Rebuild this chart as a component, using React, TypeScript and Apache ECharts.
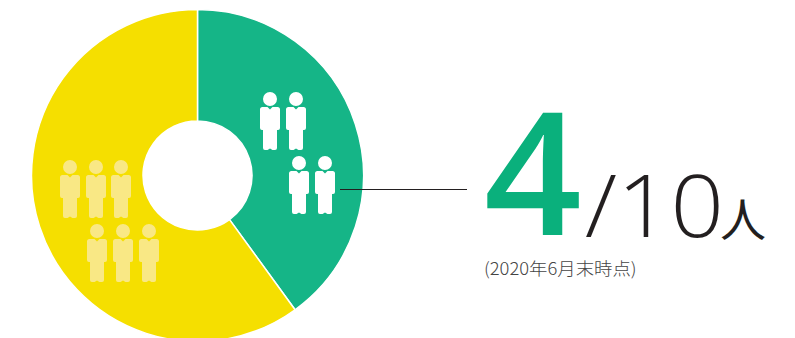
import React, { useEffect, useRef } from "react";
import * as echarts from "echarts";

const groupNames = ["女性", "男性"];
const groupValues = [4, 6];
const groupColors = ["#15B587", "#F5DF00"];
const countLabel = "4";
const totalLabel = "/10";
const unitLabel = "人";
const noteLabel = "(2020年6月末時点)";

// Head and suit silhouette, with the origin at the centre of the head.
const PERSON_PATH =
  "M-7 0A7 7 0 1 1 7 0A7 7 0 1 1 -7 0Z" +
  "M-7.5 8L-2.5 8L0 10.5L2.5 8L7.5 8Q10 8 10 10.5L10 29Q10 31 8 31L7 31L7 49Q7 51 5 51L2.5 51L0 49.5L-2.5 51L-5 51Q-7 51 -7 49L-7 31L-8 31Q-10 31 -10 29L-10 10.5Q-10 8 -7.5 8Z";
echarts.graphic.registerShape("person", echarts.graphic.extendPath(PERSON_PATH, {}));

const person = (x: number, y: number, fill: string) => ({
  type: "person",
  x,
  y,
  z: 10,
  silent: true,
  style: { fill },
});

const label = (
  x: number,
  y: number,
  text: string,
  fontSize: number,
  fill: string,
  fontWeight = 400,
  fontFamily = '"Open Sans", sans-serif',
  scaleX = 1,
) => ({
  type: "text",
  x,
  y,
  z: 10,
  scaleX,
  silent: true,
  style: { text, fontSize, fill, fontWeight, fontFamily, align: "left", verticalAlign: "middle" },
});

export default function App() {
  const ref = useRef<HTMLDivElement>(null);

  useEffect(() => {
    document.body.style.margin = "0";
    const chart = echarts.init(ref.current!, undefined, { renderer: "svg" });
    chart.setOption({
      animation: false,
      backgroundColor: "#ffffff",
      series: [
        {
          type: "pie",
          center: [197.5, 175.5],
          radius: [54.5, 166],
          startAngle: 90,
          clockwise: true,
          silent: true,
          label: { show: false },
          labelLine: { show: false },
          itemStyle: { borderColor: "#ffffff", borderWidth: 1.5 },
          data: groupValues.map((value, i) => ({
            name: groupNames[i],
            value,
            itemStyle: { color: groupColors[i] },
          })),
        },
      ],
      graphic: [
        person(270, 99, "#ffffff"),
        person(296, 99, "#ffffff"),
        person(299, 163, "#ffffff"),
        person(325, 163, "#ffffff"),
        person(70, 167, "#F9E885"),
        person(96, 167, "#F9E885"),
        person(121, 167, "#F9E885"),
        person(97, 231, "#F9E885"),
        person(123, 231, "#F9E885"),
        person(149, 231, "#F9E885"),
        {
          type: "line",
          z: 10,
          silent: true,
          shape: { x1: 340, y1: 189.5, x2: 467, y2: 189.5 },
          style: { stroke: "#231F20", lineWidth: 1 },
        },
        label(484, 168, countLabel, 171, "#0AB07C", 600),
        label(585, 203.5, totalLabel, 86, "#231F20", 300, '"Open Sans", sans-serif', 1.09),
        label(720, 216, unitLabel, 46, "#231F20", 400, '"Noto Sans CJK JP", sans-serif'),
        label(484, 267, noteLabel, 17.5, "#444444", 300, '"Noto Sans CJK JP", sans-serif', 1.05),
      ],
    });
    return () => chart.dispose();
  }, []);

  return <div ref={ref} style={{ width: 795, height: 338 }} />;
}
